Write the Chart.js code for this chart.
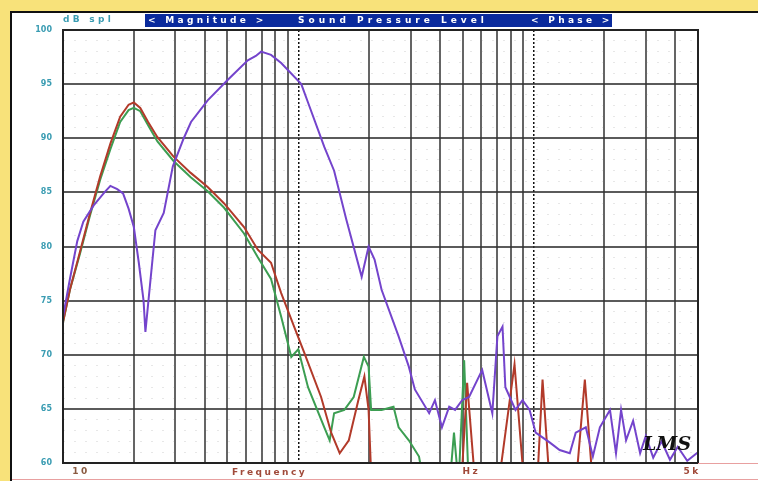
<!DOCTYPE html>
<html>
<head>
<meta charset="utf-8">
<script src="https://cdn.jsdelivr.net/npm/chart.js@4.4.1/dist/chart.umd.min.js"></script>
<style>
  html, body { margin: 0; padding: 0; background: #fff; }
  #wrap { width: 758px; height: 481px; }
</style>
</head>
<body>
<div id="wrap"><canvas id="splChart" width="758" height="481"></canvas></div>
<script>
const redFreq = [10, 10.7, 11.8, 13, 14.4, 15.9, 17.5, 19, 20, 21.3, 23, 25.2, 29.5, 34.9, 41.2, 48.3, 58.8, 67.3, 76.6, 84.6, 96, 106, 125, 138, 150, 164, 180, 191, 199, 204, 260, 490, 522, 570, 700, 830, 920, 1030, 1092, 1180, 1500, 1652, 1800, 5000];
const redDb   = [73, 76, 79.5, 83, 86.5, 89.5, 92, 93.1, 93.3, 92.8, 91.5, 90.1, 88.3, 86.8, 85.5, 84, 81.8, 79.7, 78.5, 75.7, 72.6, 70.2, 66.1, 62.8, 60.9, 62.1, 65.8, 68, 64.9, 59, 57, 57, 67.4, 57, 57, 69.1, 57, 57, 67.7, 57, 57, 67.7, 57, 57];

const greenFreq = [10, 10.7, 11.8, 13, 14.4, 15.9, 17.5, 19, 20, 21.3, 23, 25.2, 29.5, 34.9, 41.2, 48.3, 58.8, 67.3, 76.6, 84.6, 93.4, 100, 110, 129, 136, 142, 157, 172, 190, 199, 204, 226, 254, 267, 295, 326, 342, 440, 459, 480, 507, 530, 5000];
const greenDb   = [73, 76, 79.3, 82.8, 86.2, 89, 91.5, 92.6, 92.8, 92.5, 91.2, 89.7, 87.9, 86.4, 85.1, 83.6, 81.2, 79, 77, 73.5, 69.8, 70.5, 67, 63.3, 62.1, 64.6, 64.9, 66.1, 69.8, 68.9, 64.9, 64.9, 65.2, 63.3, 62.1, 60.6, 58, 58, 62.8, 58, 69.5, 58, 58];

const purpleFreq = [10, 10.7, 11.5, 12.2, 13.5, 15, 15.9, 17, 18, 19, 20, 21, 22, 22.4, 23.2, 24.7, 26.8, 29.3, 32.6, 35, 41.2, 50.2, 61, 66, 69.5, 76.6, 84.6, 103, 110, 129, 142, 160, 186, 199, 211, 226, 267, 295, 313, 360, 381, 408, 438, 464, 497, 532, 605, 668, 702, 738, 759, 838, 898, 962, 1021, 1170, 1291, 1426, 1511, 1668, 1787, 1914, 2113, 2241, 2355, 2473, 2649, 2838, 3000, 3226, 3500, 3800, 4100, 4500, 5000];
const purpleDb   = [73.5, 77, 80.5, 82.3, 83.8, 85, 85.6, 85.3, 84.9, 83.5, 81.8, 78.5, 75, 72.1, 75.5, 81.5, 83.1, 87.4, 90, 91.5, 93.5, 95.4, 97.2, 97.6, 98, 97.7, 96.95, 95, 93.3, 89.2, 87, 82.5, 77.2, 80, 78.8, 76, 71.7, 68.9, 66.8, 64.6, 65.8, 63.3, 65.2, 64.9, 65.8, 66.1, 68.6, 64.6, 71.7, 72.6, 67, 64.9, 65.8, 64.9, 62.8, 61.9, 61.2, 60.9, 62.8, 63.3, 60.6, 63.3, 64.9, 60.9, 64.9, 62.1, 63.9, 60.9, 62.5, 60.5, 62, 60.3, 61.5, 60.2, 61];

const yMajor = [60, 65, 70, 75, 80, 85, 90, 95, 100];
const yMinorStep = 1;
const xGrid = [10, 20, 30, 40, 50, 60, 70, 80, 90, 100, 200, 300, 400, 500, 600, 700, 800, 900, 1000, 2000, 3000, 4000, 5000];
const xDecades = [100, 1000];
const xLabels = ['10', 'Frequency', 'Hz', '5k'];
const headerTexts = ['< Magnitude >', 'Sound Pressure Level', '< Phase >'];

const toPoints = (fs, ds) => fs.map((f, i) => ({ x: f, y: ds[i] }));
const isMajorY = v => yMajor.includes(v);

const framePlugin = {
  id: 'lmsFrame',
  beforeDraw(chart) {
    const c = chart.ctx;
    const W = chart.width, H = chart.height;
    c.save();
    c.fillStyle = '#fff';
    c.fillRect(0, 0, W, H);
    // yellow border and black frame
    c.fillStyle = '#f8e27a';
    c.fillRect(0, 0, W, 11);
    c.fillRect(0, 0, 10, H);
    c.fillStyle = '#111';
    c.fillRect(10, 11, W - 10, 2);
    c.fillRect(10, 11, 2, H - 11);
    // header bar
    c.fillStyle = '#0a2a9c';
    c.fillRect(145, 14, 467, 13);
    c.fillStyle = '#fff';
    c.font = 'bold 9px "DejaVu Sans"';
    c.textBaseline = 'middle';
    if ('letterSpacing' in c) c.letterSpacing = '3.3px';
    c.textAlign = 'left';
    c.fillText(headerTexts[0], 148, 21);
    if ('letterSpacing' in c) c.letterSpacing = '4px';
    c.fillText(headerTexts[1], 298, 21);
    if ('letterSpacing' in c) c.letterSpacing = '3.3px';
    c.fillText(headerTexts[2], 531, 21);
    c.fillStyle = '#3a9cb2';
    c.fillText('dB spl', 63, 20);
    c.restore();
  },
  afterDraw(chart) {
    const c = chart.ctx;
    const a = chart.chartArea;
    const xs = chart.scales.x;
    c.save();
    c.strokeStyle = '#222';
    c.lineWidth = 2;
    c.strokeRect(a.left, a.top, a.right - a.left, a.bottom - a.top);
    c.strokeStyle = '#e8a0a0';
    c.lineWidth = 1;
    c.beginPath();
    c.moveTo(a.right, a.bottom + 0.5);
    c.lineTo(chart.width, a.bottom + 0.5);
    c.moveTo(12, 479.5);
    c.lineTo(chart.width, 479.5);
    c.stroke();
    // x axis texts
    c.font = 'bold 9px "DejaVu Sans"';
    if ('letterSpacing' in c) c.letterSpacing = '2.5px';
    c.textBaseline = 'middle';
    c.textAlign = 'center';
    c.fillStyle = '#8a5a40';
    c.fillText(xLabels[0], xs.getPixelForValue(10) + 18, 472);
    c.fillStyle = '#a04a3a';
    c.fillText(xLabels[1], xs.getPixelForValue(74) + 2, 473);
    c.fillText(xLabels[2], xs.getPixelForValue(560) - 3, 472);
    c.fillText(xLabels[3], xs.getPixelForValue(5000) - 6, 472);
    // LMS signature
    if ('letterSpacing' in c) c.letterSpacing = '0px';
    c.fillStyle = '#111';
    c.font = 'italic bold 19px "DejaVu Serif"';
    c.textAlign = 'left';
    c.fillText('LMS', 643, 445);
    c.restore();
  }
};

const ctx = document.getElementById('splChart').getContext('2d');

const splChart = new Chart(ctx, {
  type: 'line',
  data: {
    datasets: [
      {
        label: 'violet',
        data: toPoints(purpleFreq, purpleDb),
        borderColor: '#7444cc',
        borderWidth: 2,
        order: 0
      },
      {
        label: 'red',
        data: toPoints(redFreq, redDb),
        borderColor: '#b23a2a',
        borderWidth: 2,
        order: 1
      },
      {
        label: 'green',
        data: toPoints(greenFreq, greenDb),
        borderColor: '#3c9e52',
        borderWidth: 2,
        order: 2
      }
    ]
  },
  options: {
    responsive: false,
    animation: false,
    devicePixelRatio: 1,
    layout: { padding: { left: 0, top: 30, right: 60, bottom: 18 } },
    elements: { point: { radius: 0 }, line: { tension: 0 } },
    plugins: { legend: { display: false }, tooltip: { enabled: false } },
    scales: {
      x: {
        type: 'logarithmic',
        min: 10,
        max: 5000,
        afterBuildTicks: s => { s.ticks = xGrid.map(v => ({ value: v })); },
        afterFit: s => { s.height = 0; },
        ticks: { display: false },
        grid: {
          drawTicks: false,
          color: c => xDecades.includes(c.tick && c.tick.value) ? '#111' : 'rgba(50,50,50,0.75)',
          lineWidth: c => xDecades.includes(c.tick && c.tick.value) ? 1.5 : 2
        },
        border: {
          display: false,
          dash: c => (c.tick && xDecades.includes(c.tick.value)) ? [2, 2] : []
        }
      },
      y: {
        min: 60,
        max: 100,
        afterBuildTicks: s => {
          const t = [];
          for (let v = 60; v <= 100; v += yMinorStep) t.push({ value: v });
          s.ticks = t;
        },
        afterFit: s => { s.width = 63; },
        ticks: {
          color: '#3a9cb2',
          padding: 11,
          autoSkip: false,
          font: { family: 'DejaVu Sans', size: 8, weight: 'bold' },
          callback: v => isMajorY(v) ? String(v) : ''
        },
        grid: {
          drawTicks: false,
          color: c => (c.tick && isMajorY(c.tick.value)) ? 'rgba(50,50,50,0.8)' : 'rgba(120,120,120,0.18)',
          lineWidth: c => (c.tick && isMajorY(c.tick.value)) ? 2 : 1
        },
        border: {
          display: false,
          dash: c => (c.tick && !isMajorY(c.tick.value)) ? [2, 9] : []
        }
      }
    }
  },
  plugins: [framePlugin]
});
</script>
</body>
</html>
